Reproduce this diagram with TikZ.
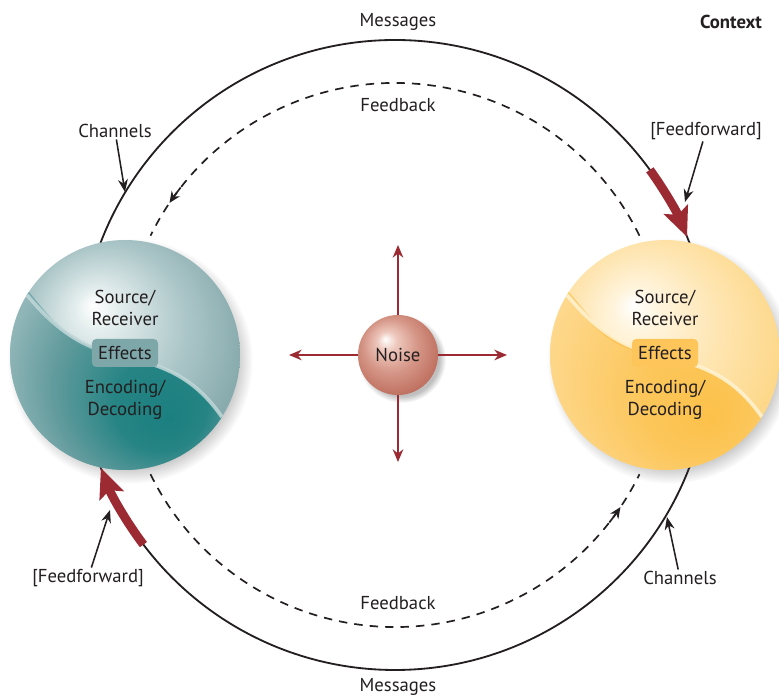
\documentclass[tikz,border=0pt]{standalone}
\usepackage{fontspec}
\setmainfont{PT Sans}
\usetikzlibrary{arrows.meta}

\definecolor{ink}{HTML}{231F20}
\definecolor{ffred}{HTML}{9B2A32}
\definecolor{tealA}{HTML}{E2ECEC}
\definecolor{tealB}{HTML}{ADC7C9}
\definecolor{tealC}{HTML}{88ABAE}
\definecolor{tealD}{HTML}{729C9F}
\definecolor{tealL0}{HTML}{1B7F80}
\definecolor{tealL1}{HTML}{268484}
\definecolor{tealL2}{HTML}{629B9D}
\definecolor{tealL3}{HTML}{98BABC}
\definecolor{tealbox}{HTML}{7EA7AA}
\definecolor{tealrim}{HTML}{5E9EA0}
\definecolor{tealstripe}{HTML}{C3D8D9}
\definecolor{goldA}{HTML}{FFF4DC}
\definecolor{goldB}{HTML}{FEE4AE}
\definecolor{goldC}{HTML}{FDD88A}
\definecolor{goldD}{HTML}{FCD07A}
\definecolor{goldL0}{HTML}{FCC14A}
\definecolor{goldL1}{HTML}{FCC65A}
\definecolor{goldL2}{HTML}{FDD27C}
\definecolor{goldL3}{HTML}{FEDC98}
\definecolor{goldbox}{HTML}{FDC55A}
\definecolor{goldrim}{HTML}{FBC150}
\definecolor{goldstripe}{HTML}{FFF4D6}
\definecolor{noiseA}{HTML}{EEC8BD}
\definecolor{noiseB}{HTML}{D59687}
\definecolor{noiseC}{HTML}{C07262}
\definecolor{noiseD}{HTML}{B06050}

\pgfdeclareradialshading{tealball}{\pgfpoint{-7bp}{11bp}}{color(0bp)=(white); color(5bp)=(tealA); color(17bp)=(tealB); color(28bp)=(tealC); color(42bp)=(tealD)}
\pgfdeclareradialshading{teallow}{\pgfpoint{10bp}{-14bp}}{color(0bp)=(tealL0); color(10bp)=(tealL1); color(21bp)=(tealL2); color(31bp)=(tealL3); color(45bp)=(tealL3)}
\pgfdeclareradialshading{goldball}{\pgfpoint{-7bp}{11bp}}{color(0bp)=(white); color(5bp)=(goldA); color(17bp)=(goldB); color(28bp)=(goldC); color(42bp)=(goldD)}
\pgfdeclareradialshading{goldlow}{\pgfpoint{10bp}{-14bp}}{color(0bp)=(goldL0); color(12bp)=(goldL1); color(24bp)=(goldL2); color(34bp)=(goldL3); color(45bp)=(goldL3)}
\pgfdeclareradialshading{noiseball}{\pgfpoint{-8bp}{10bp}}{color(0bp)=(white); color(6bp)=(noiseA); color(17bp)=(noiseB); color(28bp)=(noiseC); color(42bp)=(noiseD)}
\pgfdeclareradialshading{ballshadow}{\pgfpoint{0bp}{0bp}}{color(0bp)=(black!25); color(21bp)=(black!25); color(25bp)=(white); color(50bp)=(white)}

\begin{document}
\begin{tikzpicture}[x=0.025cm,y=0.025cm,font=\fontsize{13.3}{15.5}\selectfont,
    lbl/.style={text=ink,inner sep=1pt,align=center},
    ptr/.style={-{Stealth[length=9pt,width=7pt]},line width=1.1pt,ink},
    msgline/.style={line width=1.3pt,ink},
    fbline/.style={line width=1.2pt,ink,dash pattern=on 6pt off 5pt},
    fftip/.style={-{Stealth[length=8pt,width=7pt]},line width=1.2pt,ink},
    ffarrow/.style={-{Stealth[length=21pt,width=18pt,inset=4pt]},line width=6.3pt,ffred},
    noisearrow/.style={-{Stealth[length=9pt,width=7.5pt]},line width=1.2pt,ffred},
    effbox/.style={lbl,rounded corners=3pt,minimum width=1.65cm,minimum height=0.7cm,inner sep=0pt}]
  \useasboundingbox (-395,-341) rectangle (384,355);

  % soft shadows under the balls
  \shade[shading=ballshadow] (-265,-6) circle (123);
  \shade[shading=ballshadow] (275,-6) circle (123);
  \shade[shading=ballshadow] (7,-4) circle (44);

  % messages loop and feedback loop
  \draw[msgline] (0,0) circle (315);
  \draw[fbline] (26:272) arc (26:154:272);
  \draw[fbline] (206:272) arc (206:334:272);
  \draw[fftip] (142:272) arc (142:146:272);
  \draw[fftip] (322:272) arc (322:326:272);

  % the two source/receiver balls
  \foreach \cx/\sh/\lo/\rim/\stripe/\bx/\n in {-270/tealball/teallow/tealrim/tealstripe/tealbox/L, 270/goldball/goldlow/goldrim/goldstripe/goldbox/R} {
    \begin{scope}[shift={(\cx,0)}]
      \shade[shading=\sh] (0,0) circle (115);
      \begin{scope}
        \clip (0,0) circle (115);
        \begin{scope}
          \clip (-98,60) to[out=-50,in=168] (0,-2) to[out=-12,in=125] (97,-62) arc[start angle=-32.6,end angle=-211.5,radius=115] -- cycle;
          \shade[shading=\lo] (0,0) circle (115);
        \end{scope}
        \draw[\rim,line width=2.5pt,opacity=.7] (-100,65) to[out=-50,in=168] (-20,3);
        \draw[\stripe,line width=2.6pt,opacity=.85] (-98,60) to[out=-50,in=168] (0,-2) to[out=-12,in=125] (97,-62);
      \end{scope}
      \node[lbl] (src\n) at (0,47) {Source/\\Receiver};
      \node[effbox,fill=\bx] (eff\n) at (0,2) {Effects};
      \node[lbl] (enc\n) at (0,-45) {Encoding/\\Decoding};
    \end{scope}
  }

  % feedforward
  \draw[ffarrow] (36:315) arc (36:22:315);
  \draw[ffarrow] (217:315) arc (217:201:315);

  % noise
  \node[circle,minimum size=2cm,shading=noiseball,shade,lbl] (noise) at (3,0) {Noise};
  \coordinate (nUp) at (3,110);
  \coordinate (nDown) at (3,-107);
  \coordinate (nLeft) at (-106,0);
  \coordinate (nRight) at (112,0);
  \draw[noisearrow] (noise) -- (nUp);
  \draw[noisearrow] (noise) -- (nDown);
  \draw[noisearrow] (noise) -- (nLeft);
  \draw[noisearrow] (noise) -- (nRight);

  % labels
  \node[lbl] (msgTop) at (3,333) {Messages};
  \node[lbl] (msgBot) at (3,-332) {Messages};
  \node[lbl] (fbTop) at (3,250) {Feedback};
  \node[lbl] (fbBot) at (3,-248) {Feedback};
  \node[lbl] (ctx) at (336,333) {\textbf{Context}};
  \node[lbl] (chL) at (-280,224) {Channels};
  \node[lbl] (chR) at (285,-223) {Channels};
  \node[lbl] (ffR) at (311,224) {[Feedforward]};
  \node[lbl] (ffL) at (-307,-223) {[Feedforward]};
  \coordinate (chLpt) at (-270,163);
  \coordinate (chRpt) at (272,-162);
  \coordinate (ffRpt) at (290,153);
  \coordinate (ffLpt) at (-285,-155);
  \draw[ptr] (chL) -- (chLpt);
  \draw[ptr] (chR) -- (chRpt);
  \draw[ptr] (ffR) -- (ffRpt);
  \draw[ptr] (ffL) -- (ffLpt);
\end{tikzpicture}
\end{document}
